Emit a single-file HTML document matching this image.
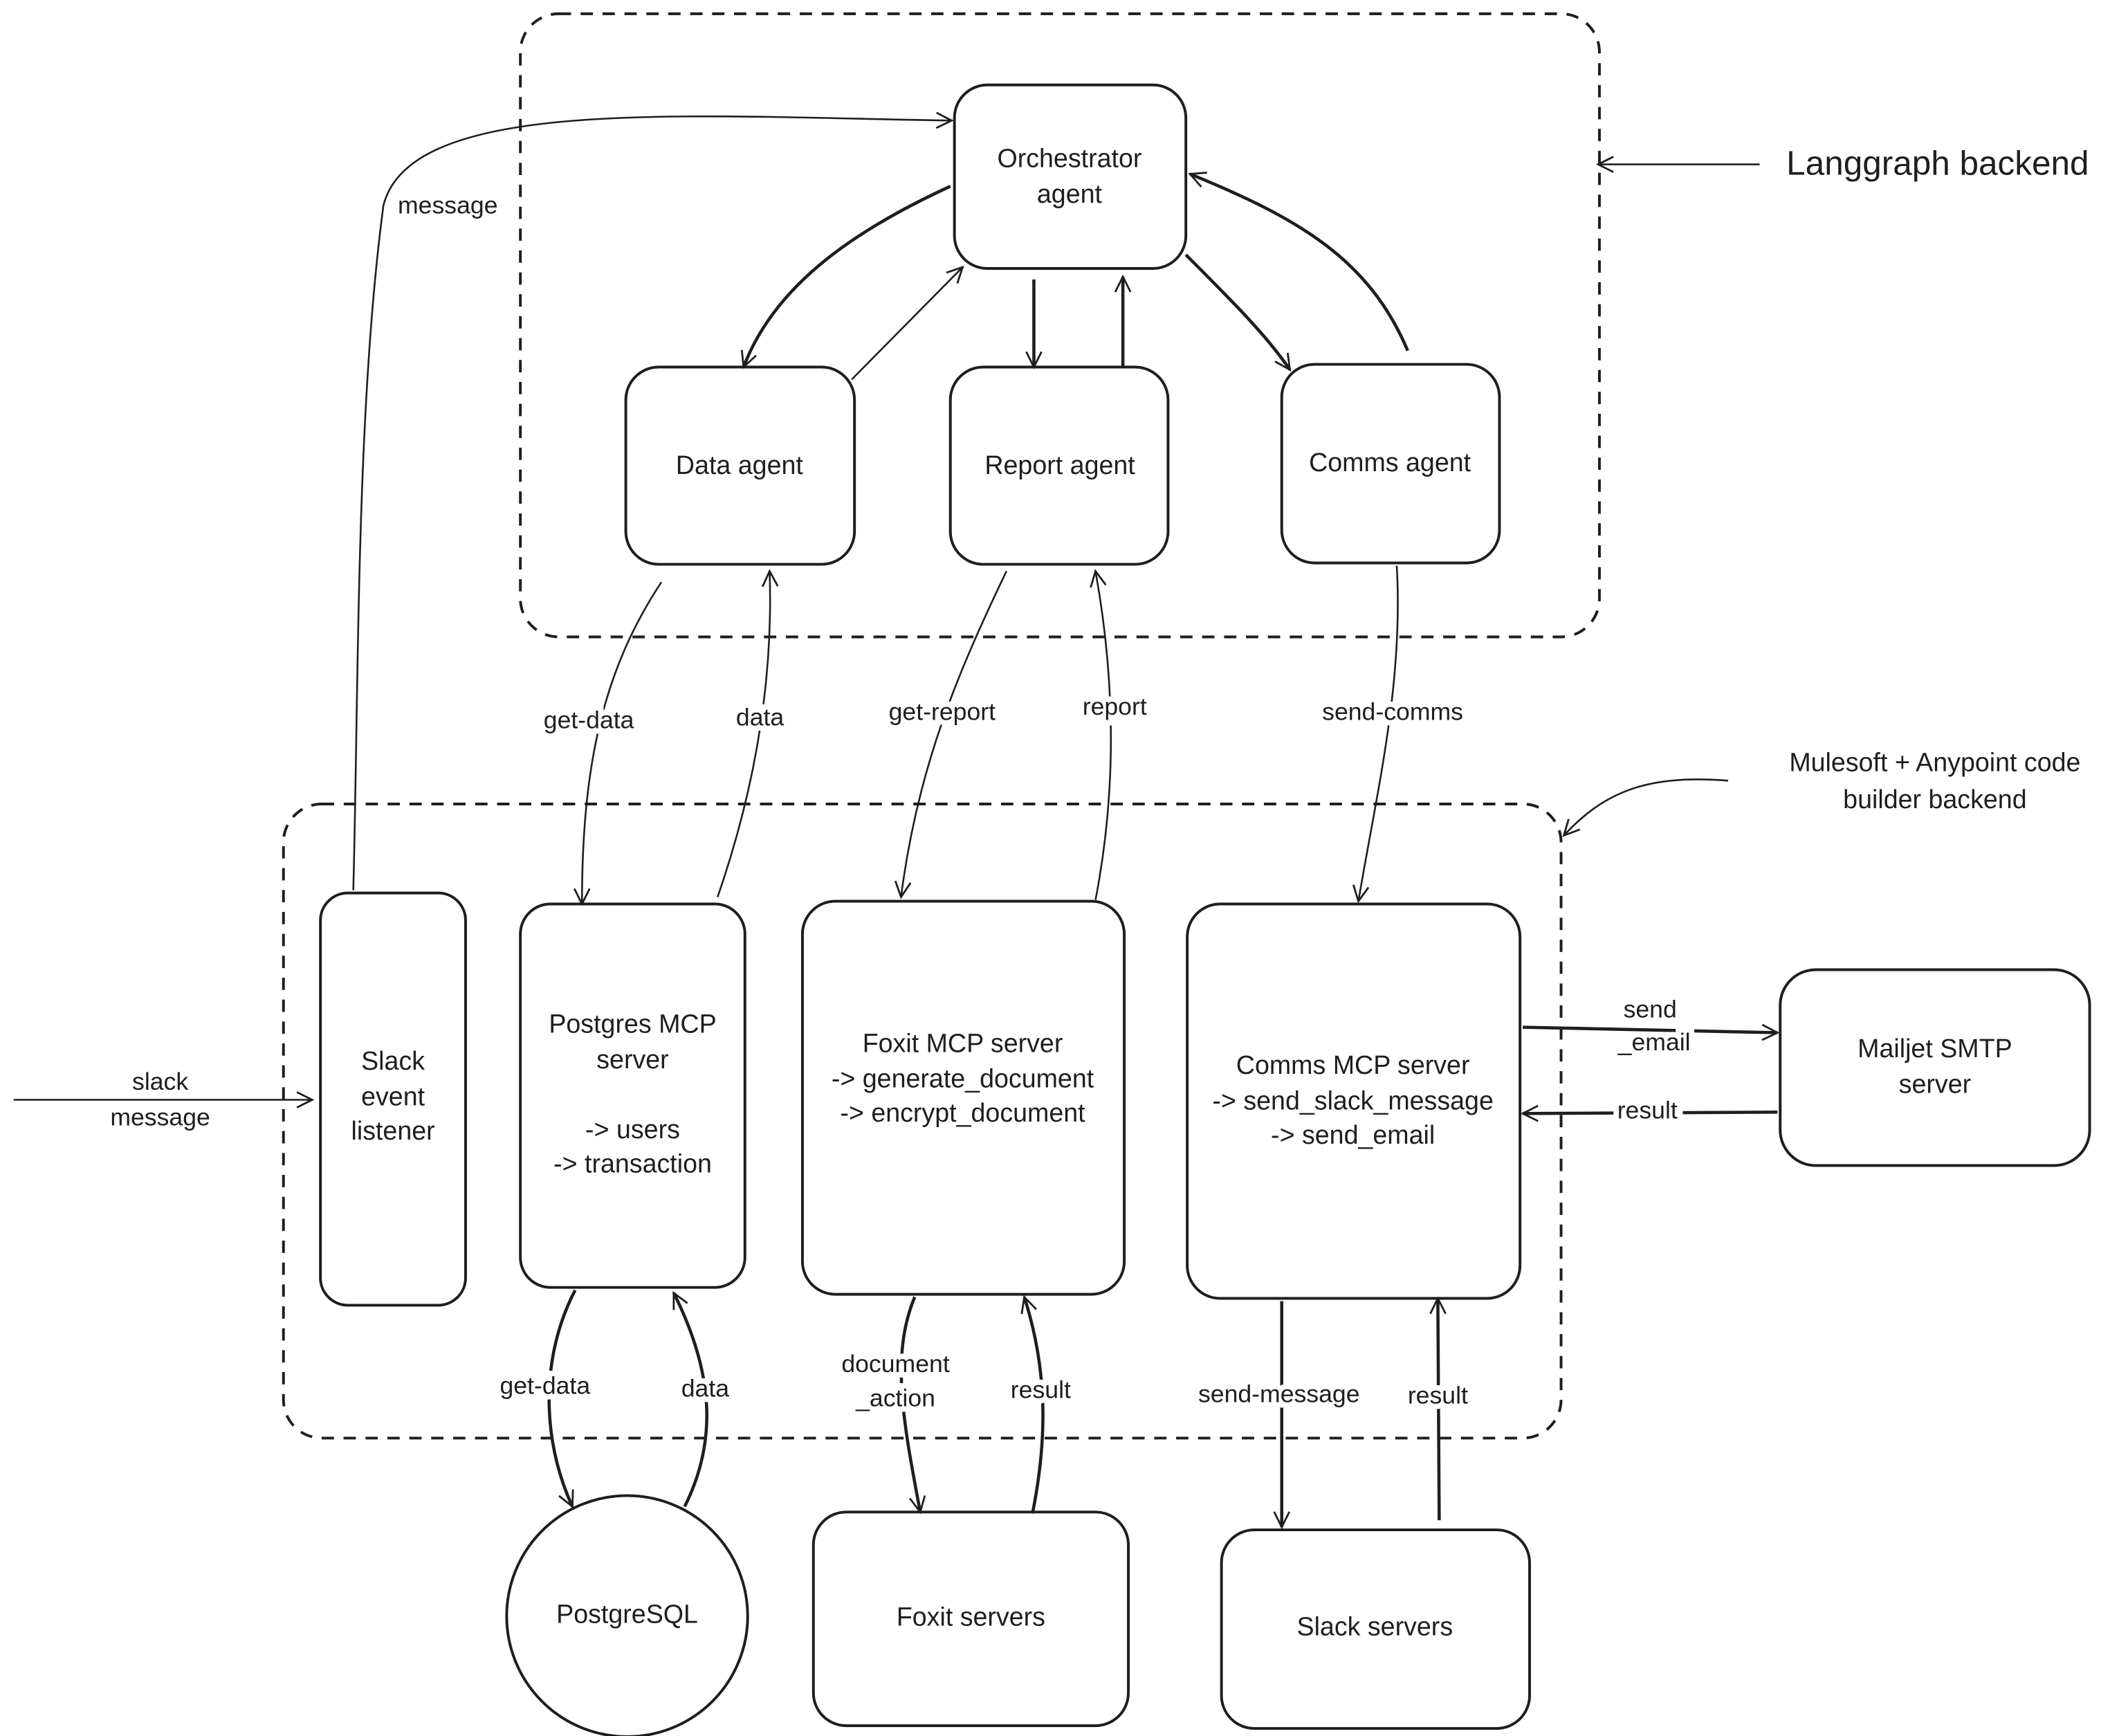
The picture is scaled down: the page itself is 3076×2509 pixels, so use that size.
<!DOCTYPE html>
<html><head><meta charset="utf-8"><style>
html,body{margin:0;padding:0;background:#fff}
svg{display:block}
text{font-family:"Liberation Sans",sans-serif;fill:#1e1e1e;text-anchor:middle;dominant-baseline:middle}
</style></head><body>
<svg width="3076" height="2509" viewBox="0 0 1554 1267.5" xmlns="http://www.w3.org/2000/svg">
<defs>
<marker id="a" viewBox="0 0 20 20" refX="18" refY="10" markerWidth="14" markerHeight="14" markerUnits="userSpaceOnUse" orient="auto"><path d="M2 2 L18 10 L2 18" fill="none" stroke="#1e1e1e" stroke-width="2"/></marker>
</defs>
<rect width="1554" height="1268" fill="#fff"/>
<g fill="none" stroke="#1e1e1e" stroke-width="2">
<rect x="380" y="10" width="788" height="455" rx="28" stroke-dasharray="9 7"/>
<rect x="207" y="587" width="933" height="463" rx="28" stroke-dasharray="9 7"/>
<rect x="697" y="62" width="169" height="134" rx="24"/>
<rect x="457" y="268" width="167" height="144" rx="24"/>
<rect x="694" y="268" width="159" height="144" rx="24"/>
<rect x="936" y="266" width="159" height="145" rx="24"/>
<rect x="234" y="652" width="106" height="301" rx="20"/>
<rect x="380" y="660" width="164" height="280" rx="22"/>
<rect x="586" y="658" width="235" height="287" rx="24"/>
<rect x="867" y="660" width="243" height="288" rx="24"/>
<rect x="1300" y="708" width="226" height="143" rx="26"/>
<circle cx="458" cy="1180" r="88"/>
<rect x="594" y="1104" width="230" height="156" rx="24"/>
<rect x="892" y="1117" width="225" height="145" rx="24"/>
</g>
<g fill="none" stroke="#1e1e1e" stroke-width="1.3" marker-end="url(#a)">
<path d="M258 650 C262 500 260 300 280 150 C300 70 500 85 695 88"/>
<path d="M10 803 L228 803"/>
<path d="M622 277 L703 195"/>
<path d="M483 425 C440 490 425 560 425 660"/>
<path d="M524 655 C550 580 565 500 562 417"/>
<path d="M735 417 C700 490 670 560 658 655"/>
<path d="M800 657 C815 580 815 500 800 417"/>
<path d="M1020 413 C1025 500 1005 580 992 658"/>
<path d="M1285 120 L1167 120"/>
<path d="M1262 570 C1200 565 1170 580 1142 610"/>
</g>
<g fill="none" stroke="#1e1e1e" stroke-width="2.3" marker-end="url(#a)">
<path d="M694 136 C620 170 565 210 543 268"/>
<path d="M755 204 L755 268"/>
<path d="M820 268 L820 202"/>
<path d="M866 186 C900 220 925 245 942 270"/>
<path d="M1028 256 C1000 190 950 160 869 127"/>
<path d="M1112 750 L1298 754"/>
<path d="M1298 812 L1112 813"/>
<path d="M420 942 C395 990 395 1050 418 1100"/>
<path d="M500 1100 C525 1050 520 1000 492 944"/>
<path d="M668 947 C650 990 660 1040 672 1104"/>
<path d="M754 1105 C765 1050 765 1000 748 947"/>
<path d="M936 950 L936 1115"/>
<path d="M1051 1110 L1050 948"/>
</g>
<g font-size="18" stroke="#fff" stroke-width="8" paint-order="stroke">
<text x="327" y="151">message</text>
<text x="117" y="791">slack</text><text x="117" y="817">message</text>
<text x="430" y="527">get-data</text>
<text x="555" y="525">data</text>
<text x="688" y="521">get-report</text>
<text x="814" y="517">report</text>
<text x="1017" y="521">send-comms</text>
<text x="1205" y="738">send</text><text x="1208" y="762">_email</text>
<text x="1203" y="812">result</text>
<text x="398" y="1013">get-data</text>
<text x="515" y="1015">data</text>
<text x="654" y="997">document</text><text x="654" y="1022">_action</text>
<text x="760" y="1016">result</text>
<text x="934" y="1019">send-message</text>
<text x="1050" y="1020">result</text>
</g>
<g font-size="19">
<text x="781" y="117">Orchestrator</text><text x="781" y="143">agent</text>
<text x="540" y="341">Data agent</text>
<text x="774" y="341">Report agent</text>
<text x="1015" y="339">Comms agent</text>
<text x="287" y="776">Slack</text><text x="287" y="802">event</text><text x="287" y="827">listener</text>
<text x="462" y="749">Postgres MCP</text><text x="462" y="775">server</text>
<text x="462" y="826">-&gt; users</text><text x="462" y="851">-&gt; transaction</text>
<text x="703" y="763">Foxit MCP server</text><text x="703" y="789">-&gt; generate_document</text><text x="703" y="814">-&gt; encrypt_document</text>
<text x="988" y="779">Comms MCP server</text><text x="988" y="805">-&gt; send_slack_message</text><text x="988" y="830">-&gt; send_email</text>
<text x="1413" y="767">Mailjet SMTP</text><text x="1413" y="793">server</text>
<text x="458" y="1180">PostgreSQL</text>
<text x="709" y="1182">Foxit servers</text>
<text x="1004" y="1189">Slack servers</text>
<text x="1413" y="558">Mulesoft + Anypoint code</text><text x="1413" y="585">builder backend</text>
<text x="1415" y="121" font-size="25">Langgraph backend</text>
</g>
</svg>
</body></html>
